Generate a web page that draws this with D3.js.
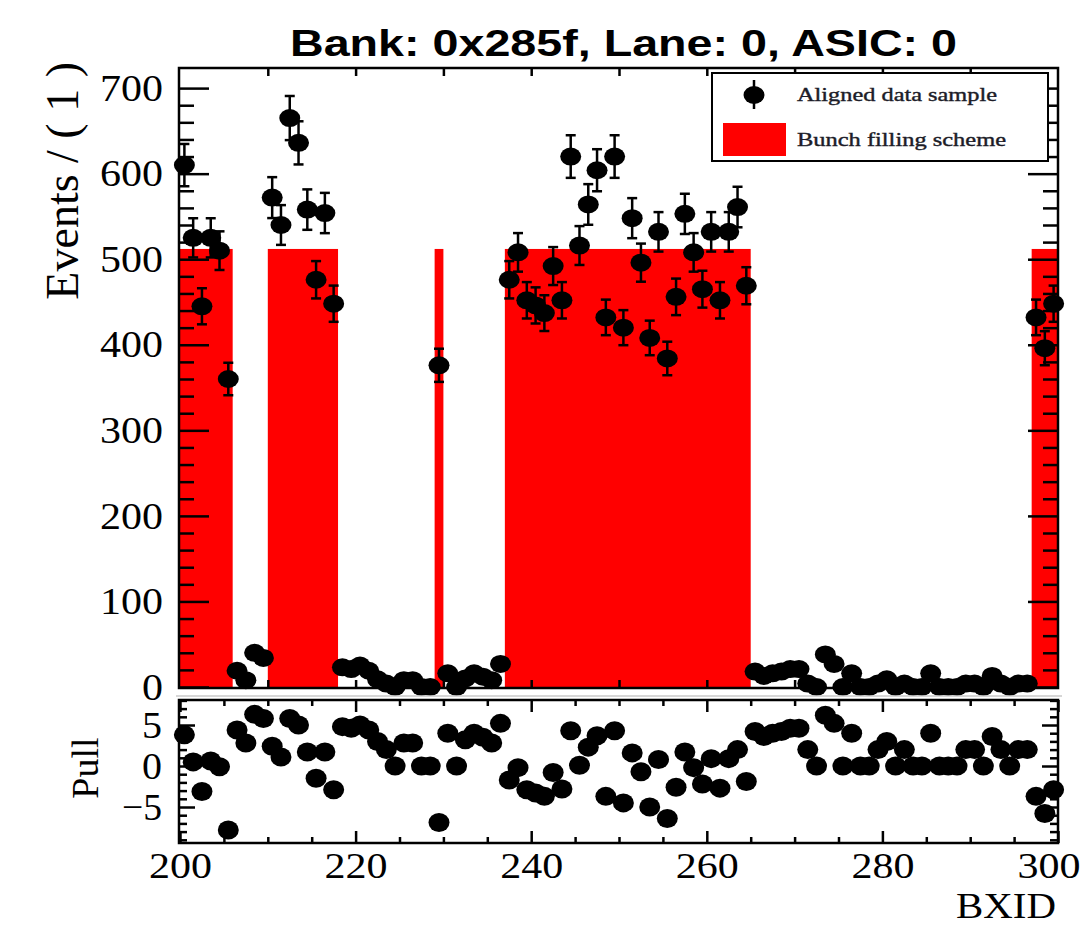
<!DOCTYPE html>
<html>
<head>
<meta charset="utf-8">
<script src="https://cdn.jsdelivr.net/npm/d3@7"></script>
<style>
  body { margin: 0; background: #fff; }
  svg { display: block; }
  .tick text { font-family: "Liberation Serif", "Times New Roman", serif; fill: #000; }
</style>
</head>
<body>
<div id="chart"></div>
<script>
// bins 200..299 (BXID)
var bxid = d3.range(200, 300);

// events per BXID
var events = [
  610, 525, 445, 525, 510, 360, 19, 8, 40, 34,
  572, 540, 665, 636, 558, 476, 554, 448, 23, 21,
  25, 19, 9, 4, 0, 8, 8, 0, 0, 376,
  16, 0, 10, 16, 12, 8, 27, 476, 508, 452,
  446, 437, 492, 452, 620, 516, 564, 604, 432, 620,
  420, 548, 496, 408, 532, 384, 456, 553, 508, 465,
  532, 452, 532, 561, 469, 18, 13, 16, 18, 21,
  21, 4, 0, 38, 27, 0, 16, 0, 0, 4,
  9, 0, 4, 0, 0, 16, 0, 0, 0, 4,
  4, 0, 13, 4, 0, 4, 4, 432, 396, 448
];

// pull per BXID
var pulls = [
  3.8, 0.5, -3.1, 0.6, -0.1, -7.8, 4.4, 2.8, 6.3, 5.8,
  2.4, 1.1, 5.8, 5.0, 1.7, -1.5, 1.7, -2.9, 4.8, 4.6,
  5.0, 4.4, 3.0, 2.0, 0, 2.8, 2.8, 0, 0, -6.9,
  4.0, 0, 3.2, 4.0, 3.5, 2.8, 5.2, -1.7, -0.2, -2.9,
  -3.3, -3.7, -0.8, -2.8, 4.3, 0.1, 2.3, 3.7, -3.7, 4.3,
  -4.5, 1.6, -0.7, -5.0, 0.8, -6.4, -2.6, 1.7, -0.2, -2.2,
  0.9, -2.7, 0.9, 2.0, -1.9, 4.2, 3.6, 4.0, 4.2, 4.6,
  4.6, 2.0, 0, 6.2, 5.2, 0, 4.0, 0, 0, 2.0,
  3.0, 0, 2.0, 0, 0, 4.0, 0, 0, 0, 2.0,
  2.0, 0, 3.6, 2.0, 0, 2.0, 2.0, -3.7, -5.8, -2.9
];

// filled bunch ranges [from, to) and their level
var bunchFrom = [200, 210, 229, 237, 297];
var bunchTo   = [206, 218, 230, 265, 300];
var bunchLevel = 512;

var yTickValues = [0, 100, 200, 300, 400, 500, 600, 700];
var pullTickValues = [-5, 0, 5];
var xTickValues = [200, 220, 240, 260, 280, 300];

var titleText = "Bank: 0x285f, Lane: 0, ASIC: 0";
var legendLabels = ["Aligned data sample", "Bunch filling scheme"];

var W = 1082, H = 925;
var serif = '"Liberation Serif", "Times New Roman", serif';

var svg = d3.select("#chart").append("svg")
  .attr("width", W).attr("height", H);

var x = d3.scaleLinear().domain([200, 300]).range([180, 1058]);
var y = d3.scaleLinear().domain([0, 723.5]).range([687, 68]);
var yp = d3.scaleLinear().domain([-9.39, 8.05]).range([843, 700]);

var data = bxid.map(function(b, i) { return {bx: b, n: events[i], pull: pulls[i]}; });
var bunches = bunchFrom.map(function(f, i) { return {from: f, to: bunchTo[i]}; });

// ---- top panel ----
svg.append("g").selectAll("rect")
  .data(bunches)
  .join("rect")
  .attr("x", function(d) { return x(d.from); })
  .attr("y", y(bunchLevel))
  .attr("width", function(d) { return x(d.to) - x(d.from); })
  .attr("height", y(0) - y(bunchLevel))
  .attr("fill", "#ff0000");

function axisStyle(g, labelSize, labelLen) {
  g.select(".domain").remove();
  g.selectAll(".tick line").attr("stroke", "#000").attr("stroke-width", 2.5);
  g.selectAll(".tick text")
    .style("font-size", labelSize + "px")
    .attr("textLength", labelLen ? function() { return labelLen(this.textContent); } : null)
    .attr("lengthAdjust", "spacingAndGlyphs");
}

function digitsLen(t) { return t.length * 21; }

// y ticks main
svg.append("g").attr("transform", "translate(179,0)")
  .call(d3.axisLeft(y).tickValues(yTickValues).tickSize(-30).tickPadding(16).tickFormat(d3.format("d")))
  .call(axisStyle, 38, digitsLen);
svg.append("g").attr("transform", "translate(179,0)")
  .call(d3.axisLeft(y).tickValues(d3.range(20, 720, 20).filter(function(v) { return v % 100; })).tickSize(-15).tickFormat(""))
  .call(axisStyle, 10);
svg.append("g").attr("transform", "translate(1058,0)")
  .call(d3.axisRight(y).tickValues(yTickValues).tickSize(-30).tickFormat(""))
  .call(axisStyle, 10);
svg.append("g").attr("transform", "translate(1058,0)")
  .call(d3.axisRight(y).tickValues(d3.range(20, 720, 20).filter(function(v) { return v % 100; })).tickSize(-15).tickFormat(""))
  .call(axisStyle, 10);
// x ticks main (top and bottom)
svg.append("g").attr("transform", "translate(0,68)")
  .call(d3.axisTop(x).tickValues(d3.range(210, 300, 10)).tickSize(-8).tickFormat(""))
  .call(axisStyle, 10);
svg.append("g").attr("transform", "translate(0,688)")
  .call(d3.axisBottom(x).tickValues(d3.range(210, 300, 10)).tickSize(-8).tickFormat(""))
  .call(axisStyle, 10);

// error bars + markers
var pts = svg.append("g");
pts.selectAll("line.err")
  .data(data.filter(function(d) { return d.n > 0; }))
  .join("line")
  .attr("x1", function(d) { return x(d.bx + 0.5); })
  .attr("x2", function(d) { return x(d.bx + 0.5); })
  .attr("y1", function(d) { return y(d.n + Math.sqrt(d.n)); })
  .attr("y2", function(d) { return y(d.n - Math.sqrt(d.n)); })
  .attr("stroke", "#000").attr("stroke-width", 2.5);
[1, -1].forEach(function(s) {
  pts.selectAll("line.cap" + s)
    .data(data.filter(function(d) { return d.n > 0; }))
    .join("line")
    .attr("x1", function(d) { return x(d.bx + 0.5) - 5; })
    .attr("x2", function(d) { return x(d.bx + 0.5) + 5; })
    .attr("y1", function(d) { return y(d.n + s * Math.sqrt(d.n)); })
    .attr("y2", function(d) { return y(d.n + s * Math.sqrt(d.n)); })
    .attr("stroke", "#000").attr("stroke-width", 2.5);
});
pts.selectAll("ellipse")
  .data(data)
  .join("ellipse")
  .attr("cx", function(d) { return x(d.bx + 0.5); })
  .attr("cy", function(d) { return y(d.n); })
  .attr("rx", 10.5).attr("ry", 9)
  .attr("fill", "#000");

// frame
svg.append("rect").attr("x", 179).attr("y", 68).attr("width", 879).attr("height", 620)
  .attr("fill", "none").attr("stroke", "#000").attr("stroke-width", 2.5);

// legend
var lg = svg.append("g");
lg.append("rect").attr("x", 712).attr("y", 73).attr("width", 336).attr("height", 88)
  .attr("fill", "#fff").attr("stroke", "#000").attr("stroke-width", 2);
lg.append("line").attr("x1", 754).attr("x2", 754).attr("y1", 80).attr("y2", 109)
  .attr("stroke", "#000").attr("stroke-width", 2.5);
lg.append("ellipse").attr("cx", 754).attr("cy", 95).attr("rx", 10.5).attr("ry", 9).attr("fill", "#000");
lg.append("rect").attr("x", 723).attr("y", 123).attr("width", 63).attr("height", 33).attr("fill", "#ff0000");
lg.selectAll("text")
  .data(legendLabels)
  .join("text")
  .attr("x", 797)
  .attr("y", function(d, i) { return i ? 146 : 101; })
  .attr("textLength", function(d, i) { return i ? 209 : 200; })
  .attr("lengthAdjust", "spacingAndGlyphs")
  .style("font-family", serif)
  .style("font-size", "19px")
  .style("fill", "#1c1c28")
  .style("stroke", "#1c1c28").style("stroke-width", 0.4)
  .text(function(d) { return d; });

// ---- pull panel ----
svg.append("line").attr("x1", 176).attr("x2", 1062).attr("y1", 696).attr("y2", 696)
  .attr("stroke", "#c8c8c8").attr("stroke-width", 1.5);

svg.append("g").attr("transform", "translate(179,0)")
  .call(d3.axisLeft(yp).tickValues(pullTickValues).tickSize(-16).tickPadding(17).tickFormat(function(d) { return d < 0 ? "\u22125" : d; }))
  .call(axisStyle, 38, function(t) { return t.length * 20; });
svg.append("g").attr("transform", "translate(179,0)")
  .call(d3.axisLeft(yp).tickValues(d3.range(-9, 9).filter(function(v) { return v % 5; })).tickSize(-8).tickFormat(""))
  .call(axisStyle, 10);
svg.append("g").attr("transform", "translate(1058,0)")
  .call(d3.axisRight(yp).tickValues(pullTickValues).tickSize(-16).tickFormat(""))
  .call(axisStyle, 10);
svg.append("g").attr("transform", "translate(1058,0)")
  .call(d3.axisRight(yp).tickValues(d3.range(-9, 9).filter(function(v) { return v % 5; })).tickSize(-8).tickFormat(""))
  .call(axisStyle, 10);
var xLab = svg.append("g").attr("transform", "translate(0,843)")
  .call(d3.axisBottom(x).tickValues(xTickValues).tickSize(-12).tickPadding(9).tickFormat(d3.format("d")))
  .call(axisStyle, 36, digitsLen);
// last label sits flush with the right edge of the page
xLab.selectAll(".tick text").filter(function(d) { return d === 300; })
  .attr("text-anchor", "end").attr("x", 1080 - x(300));
svg.append("g").attr("transform", "translate(0,843)")
  .call(d3.axisBottom(x).tickValues(d3.range(205, 300, 5).filter(function(v) { return v % 20; })).tickSize(-6).tickFormat(""))
  .call(axisStyle, 10);
svg.append("g").attr("transform", "translate(0,700)")
  .call(d3.axisTop(x).tickValues(xTickValues).tickSize(-12).tickFormat(""))
  .call(axisStyle, 10);
svg.append("g").attr("transform", "translate(0,700)")
  .call(d3.axisTop(x).tickValues(d3.range(205, 300, 5).filter(function(v) { return v % 20; })).tickSize(-6).tickFormat(""))
  .call(axisStyle, 10);

svg.append("g").selectAll("ellipse")
  .data(data)
  .join("ellipse")
  .attr("cx", function(d) { return x(d.bx + 0.5); })
  .attr("cy", function(d) { return yp(d.pull); })
  .attr("rx", 10.5).attr("ry", 9.5)
  .attr("fill", "#000");

svg.append("rect").attr("x", 179).attr("y", 700).attr("width", 879).attr("height", 143)
  .attr("fill", "none").attr("stroke", "#000").attr("stroke-width", 2.5);

// ---- titles ----
svg.append("text")
  .attr("x", 290).attr("y", 56)
  .attr("textLength", 667).attr("lengthAdjust", "spacingAndGlyphs")
  .style("font-family", '"Liberation Sans", Arial, sans-serif')
  .style("font-weight", "bold").style("font-size", "37px")
  .text(titleText);

svg.append("text")
  .attr("transform", "translate(78,62) rotate(-90)")
  .attr("text-anchor", "end")
  .style("font-family", serif).style("font-size", "46px")
  .text("Events / ( 1 )");

svg.append("text")
  .attr("transform", "translate(98,768) rotate(-90)")
  .attr("text-anchor", "middle")
  .style("font-family", serif).style("font-size", "38px")
  .text("Pull");

svg.append("text")
  .attr("x", 1056).attr("y", 918)
  .attr("text-anchor", "end")
  .attr("textLength", 100).attr("lengthAdjust", "spacingAndGlyphs")
  .style("font-family", serif).style("font-size", "35px")
  .text("BXID");
</script>
</body>
</html>
